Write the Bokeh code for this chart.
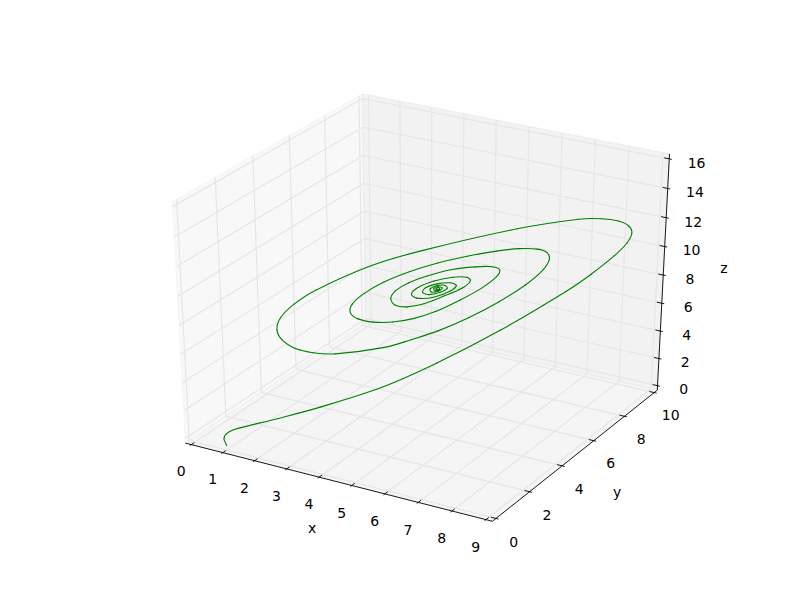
import numpy as np
from bokeh.embed import file_html
from bokeh.resources import INLINE
from bokeh.plotting import figure
from bokeh.models import Range1d
from bokeh.core.properties import value

x_vals=[0.95,0.90,0.95,1.10,1.98,2.86,4.09,5.20,6.47,7.79,8.28,8.73,8.98,9.07,9.00,8.79,8.45,7.99,6.77,4.92,3.91,2.81,2.38,2.11,2.03,2.13,2.37,2.73,3.17,4.15,4.68,5.22,5.83,6.44,6.96,7.30,7.43,7.38,7.18,6.83,6.37,5.79,5.21,4.65,4.15,3.76,3.52,3.48,3.63,3.93,4.31,4.72,5.18,5.66,6.10,6.38,6.44,6.29,5.95,5.47,5.00,4.63,4.38,4.28,4.36,4.60,4.94,5.32,5.70,5.86,5.79,5.51,5.14,4.82,4.69,4.79,5.13,5.46,5.58,5.46,5.20,4.97,4.91,5.04,5.26,5.40,5.36,5.20,5.06,5.08,5.23,5.30,5.21,5.13,5.17,5.25,5.23,5.18,5.19,5.23,5.18]
y_vals=[0.10,0.05,0.10,0.25,1.13,2.01,3.24,4.35,5.62,6.94,7.43,7.88,8.13,8.22,8.15,7.94,7.60,7.14,5.92,4.07,3.06,1.96,1.53,1.26,1.18,1.28,1.52,1.88,2.32,3.30,3.83,4.37,4.98,5.59,6.11,6.45,6.58,6.53,6.33,5.98,5.52,4.94,4.36,3.80,3.30,2.91,2.67,2.63,2.78,3.08,3.46,3.87,4.33,4.81,5.25,5.53,5.59,5.44,5.10,4.62,4.15,3.78,3.53,3.43,3.51,3.75,4.09,4.47,4.85,5.01,4.94,4.66,4.29,3.97,3.84,3.94,4.28,4.61,4.73,4.61,4.35,4.12,4.06,4.19,4.41,4.55,4.51,4.35,4.21,4.23,4.38,4.45,4.36,4.28,4.32,4.40,4.38,4.33,4.34,4.38,4.33]
z_vals=[-0.12,0.38,0.71,0.97,1.48,2.05,3.07,4.46,6.39,8.74,9.78,10.91,11.73,12.38,12.88,13.27,13.52,13.61,13.29,12.34,11.59,10.23,9.40,8.56,7.73,6.98,6.35,5.93,5.72,5.88,6.26,6.72,7.46,8.40,9.41,10.32,11.03,11.51,11.80,11.93,11.89,11.70,11.40,10.96,10.40,9.74,9.07,8.48,8.02,7.71,7.60,7.72,8.10,8.74,9.47,10.14,10.59,10.85,10.93,10.87,10.58,10.21,9.75,9.23,8.77,8.57,8.69,9.09,9.56,10.00,10.27,10.35,10.19,9.84,9.42,9.12,9.08,9.42,9.77,9.98,9.98,9.78,9.48,9.29,9.39,9.62,9.83,9.86,9.68,9.46,9.48,9.67,9.78,9.66,9.51,9.58,9.72,9.67,9.55,9.60,9.60]
x_ticks=[0,1,2,3,4,5,6,7,8,9]
y_ticks=[0,2,4,6,8,10]
z_ticks=[0,2,4,6,8,10,12,14,16]
xlim=(0,9);ylim=(0,10);zlim=(0,16)

def proj_matrix(elev=30,azim=-60,dist=10):
    W=np.array([[1/(xlim[1]-xlim[0]),0,0,-xlim[0]/(xlim[1]-xlim[0])],[0,1/(ylim[1]-ylim[0]),0,-ylim[0]/(ylim[1]-ylim[0])],[0,0,1/(zlim[1]-zlim[0]),-zlim[0]/(zlim[1]-zlim[0])],[0,0,0,1]])
    R=np.array([.5,.5,.5]);el=np.radians(elev);az=np.radians(azim)
    E=R+dist*np.array([np.cos(az)*np.cos(el),np.sin(az)*np.cos(el),np.sin(el)])
    n=E-R;n=n/np.linalg.norm(n);u=np.cross([0,0,1],n);u/=np.linalg.norm(u);v=np.cross(n,u)
    V=np.array([[*u,-u@E],[*v,-v@E],[*n,-n@E],[0,0,0,1]])
    P=np.array([[1,0,0,0],[0,1,0,0],[0,0,0,dist],[0,0,-1,0]],float)
    return P@V@W
M=proj_matrix()
def prj(pts):
    a=np.asarray(pts,float)
    q=M@np.c_[a,np.ones(len(a))].T
    return q[0]/q[3],q[1]/q[3]

sx=0.185/629.3;sy=0.185/489.6
p=figure(width=800,height=600,output_backend="svg",toolbar_location=None,min_border=0,
         x_range=Range1d(-0.095-101.5*sx,-0.095+698.5*sx),y_range=Range1d(-0.095-(600-550.8)*sy,-0.095+550.8*sy))
p.axis.visible=False;p.grid.visible=False;p.outline_line_color=None

dx,dy,dz=[(l[1]-l[0])/12 for l in (xlim,ylim,zlim)]
x0,x1=xlim[0]-dx/4,xlim[1]+dx/4
y0,y1=ylim[0]-dy/4,ylim[1]+dy/4
z0,z1=zlim[0]-dz/4,zlim[1]+dz/4

for pts,c in (([(x0,y0,z0),(x0,y1,z0),(x0,y1,z1),(x0,y0,z1)],"#f2f2f2"),
              ([(x0,y1,z0),(x1,y1,z0),(x1,y1,z1),(x0,y1,z1)],"#e6e6e6"),
              ([(x0,y0,z0),(x1,y0,z0),(x1,y1,z0),(x0,y1,z0)],"#ececec")):
    a,b=prj(pts)
    p.patch(a,b,fill_color=c,fill_alpha=0.5,line_color=c,line_alpha=0.5,line_width=1)

gx=[];gy=[]
def grid(pts):
    a,b=prj(pts);gx.append(list(a));gy.append(list(b))
for t in x_ticks: grid([(t,y0,z0),(t,y1,z0),(t,y1,z1)])
for t in y_ticks: grid([(x1,t,z0),(x0,t,z0),(x0,t,z1)])
for t in z_ticks: grid([(x0,y0,t),(x0,y1,t),(x1,y1,t)])
p.multi_line(gx,gy,line_color="#e6e6e6",line_width=1.2)

for pts in ([(x0,y0,z0),(x1,y0,z0)],[(x1,y0,z0),(x1,y1,z0)],[(x1,y1,z0),(x1,y1,z1)]):
    a,b=prj(pts);p.line(a,b,line_color="black",line_width=0.9)
tx=[];ty=[]
IN,OUT=0.2,0.1
def tick(p1,p2):
    a,b=prj([p1,p2]);tx.append(list(a));ty.append(list(b))
for t in x_ticks: tick((t,y0-OUT*dy,z0),(t,y0+IN*dy,z0))
for t in y_ticks: tick((x1+OUT*dx,t,z0),(x1-IN*dx,t,z0))
for t in z_ticks: tick((x1+OUT*dx,y1,t),(x1-IN*dx,y1,t))
p.multi_line(tx,ty,line_color="black",line_width=0.9)

# the curve: one smooth Bezier segment between each pair of read points
a,b=prj(list(zip(x_vals,y_vals,z_vals)))
P=np.c_[a/sx,b/sy]
seg=np.linalg.norm(np.diff(P,axis=0),axis=1)
T=np.zeros_like(P)
T[1:-1]=(P[2:]-P[:-2])/(seg[1:]+seg[:-1])[:,None]
T[0]=(P[1]-P[0])/seg[0];T[-1]=(P[-1]-P[-2])/seg[-1]
c0=P[:-1]+T[:-1]*seg[:,None]/3
c1=P[1:]-T[1:]*seg[:,None]/3
p.bezier(x0=a[:-1],y0=b[:-1],x1=a[1:],y1=b[1:],cx0=c0[:,0]*sx,cy0=c0[:,1]*sy,cx1=c1[:,0]*sx,cy1=c1[:,1]*sy,
         line_color="#008000",line_width=1.1,line_cap="round")

F=0.7;L=1.6
def text(pts,labs,ox,oy):
    a,b=prj(pts)
    p.text(a,b,text=labs,x_offset=ox,y_offset=oy,text_font=value("DejaVu Sans"),text_font_size="14px",text_color="black",text_align="center",text_baseline="middle")
text([(t,y0-F*dy,z0-F*dz) for t in x_ticks],[str(t) for t in x_ticks],0,6.5)
text([(x1+F*dx,t,z0-F*dz) for t in y_ticks],[str(t) for t in y_ticks],0,5.5)
text([(x1+F*dx,y1+F*dy,t) for t in z_ticks],[str(t) for t in z_ticks],0.5,6.5)
text([(4.5,y0-L*dy,z0-L*dz)],["x"],0,-1)
text([(x1+L*dx,5,z0-L*dz)],["y"],0,0)
text([(x1+L*dx,y1+L*dy,8)],["z"],1,-1)
open("out.html","w").write(file_html(p,INLINE))
